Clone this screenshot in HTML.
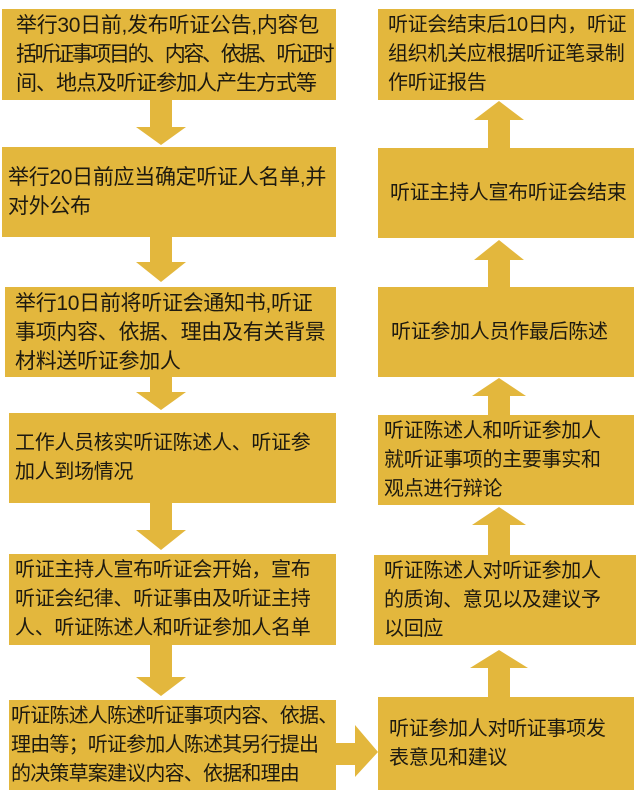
<!DOCTYPE html>
<html><head><meta charset="utf-8"><style>
body{margin:0;width:642px;height:800px;background:#fff;position:relative;overflow:hidden;font-family:"Liberation Sans","Noto Sans CJK SC",sans-serif;}
.b{position:absolute;background:#e3b73d;color:#1e1a10;font-size:20px;line-height:29px;display:flex;align-items:center;white-space:nowrap;box-sizing:border-box;padding-left:8px;letter-spacing:-0.3px}
svg{position:absolute;left:0;top:0}
</style></head><body>
<div class="b" style="left:2px;top:9px;width:334px;height:91px;padding-left:14px;font-size:21px"><div>举行30日前,发布听证公告,内容包<br><span style="letter-spacing:-2.4px">括听证事项目的、内容、依据、听证时</span><br><span style="letter-spacing:-1px">间、地点及听证参加人产生方式等</span></div></div>
<div class="b" style="left:2px;top:147px;width:334px;height:90px;padding-left:6px;font-size:21px">举行20日前应当确定听证人名单,并<br>对外公布</div>
<div class="b" style="left:5px;top:287px;width:331px;height:90px;padding-left:10px;font-size:21px">举行10日前将听证会通知书,听证<br>事项内容、依据、理由及有关背景<br>材料送听证参加人</div>
<div class="b" style="left:9px;top:413px;width:327px;height:90px;padding-left:6px">工作人员核实听证陈述人、听证参<br>加人到场情况</div>
<div class="b" style="left:9px;top:554px;width:327px;height:91px;padding-left:6px">听证主持人宣布听证会开始，宣布<br>听证会纪律、听证事由及听证主持<br>人、听证陈述人和听证参加人名单</div>
<div class="b" style="left:9px;top:700px;width:327px;height:90px;padding-left:2px;letter-spacing:-0.8px">听证陈述人陈述听证事项内容、依据、<br>理由等；听证参加人陈述其另行提出<br>的决策草案建议内容、依据和理由</div>

<div class="b" style="left:378px;top:9px;width:256px;height:91px;padding-left:10px">听证会结束后10日内，听证<br>组织机关应根据听证笔录制<br>作听证报告</div>
<div class="b" style="left:378px;top:148px;width:256px;height:90px;padding-left:12px">听证主持人宣布听证会结束</div>
<div class="b" style="left:378px;top:287px;width:256px;height:90px;padding-left:13px">听证参加人员作最后陈述</div>
<div class="b" style="left:378px;top:415px;width:256px;height:90px;padding-left:6px">听证陈述人和听证参加人<br>就听证事项的主要事实和<br>观点进行辩论</div>
<div class="b" style="left:374px;top:555px;width:262px;height:90px;padding-left:10px">听证陈述人对听证参加人<br>的质询、意见以及建议予<br>以回应</div>
<div class="b" style="left:378px;top:697px;width:256px;height:93px;padding-left:11px">听证参加人对听证事项发<br>表意见和建议</div>

<svg width="642" height="800" fill="#e3b73d">
<polygon points="150,100 172,100 172,127 186,127 161,145 136,127 150,127"/>
<polygon points="150,237 172,237 172,262 186,262 161,282 136,262 150,262"/>
<polygon points="150,377 172,377 172,392 186,392 161,410 136,392 150,392"/>
<polygon points="150,503 172,503 172,530 186,530 161,550 136,530 150,530"/>
<polygon points="150,645 172,645 172,677 186,677 161,696 136,677 150,677"/>
<polygon points="488,148 510,148 510,120 524,120 499,101 474,120 488,120"/>
<polygon points="488,287 510,287 510,260 524,260 499,240 474,260 488,260"/>
<polygon points="488,415 510,415 510,396 526,396 499,378 472,396 488,396"/>
<polygon points="488,555 510,555 510,525 526,525 499,507 472,525 488,525"/>
<polygon points="488,697 510,697 510,668 528,668 499,650 470,668 488,668"/>
<polygon points="336,743 355,743 355,725 378,752 355,777 355,765 336,765"/>
</svg>
</body></html>
